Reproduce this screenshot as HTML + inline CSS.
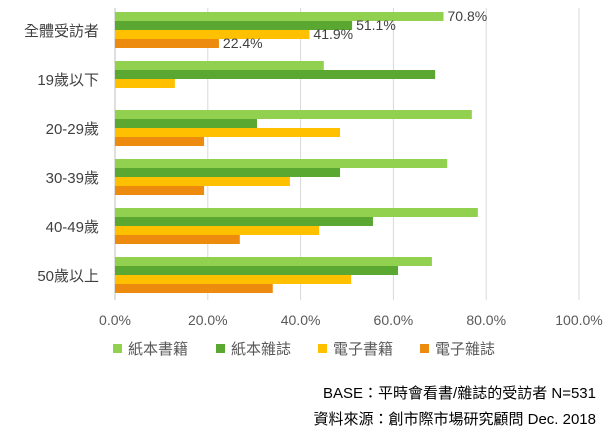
<!DOCTYPE html>
<html><head><meta charset="utf-8"><style>
body{margin:0;background:#fff;}
svg text{font-family:"Liberation Sans","Noto Sans CJK TC",sans-serif;}
</style></head><body>
<svg width="612" height="442" id="c"></svg>
<script>
const categories=["全體受訪者","19歲以下","20-29歲","30-39歲","40-49歲","50歲以上"];
const seriesNames=["紙本書籍","紙本雜誌","電子書籍","電子雜誌"];
const paperBooks=[70.8,45.0,76.9,71.6,78.2,68.3];
const paperMags=[51.1,69.0,30.6,48.5,55.6,61.0];
const eBooks=[41.9,12.9,48.5,37.7,44.0,50.9];
const eMags=[22.4,0,19.2,19.2,26.9,34.0];
const ticks=[0,20,40,60,80,100];
const colors=["#92D050","#5AA832","#FFC000","#ED8B0F"];
const svg=document.getElementById('c');
const NS="http://www.w3.org/2000/svg";
function mk(t,a,p){const e=document.createElementNS(NS,t);for(const k in a)e.setAttribute(k,a[k]);(p||svg).appendChild(e);return e;}
const x0=115,xw=464,plotTop=8,gh=49;
const X=v=>x0+v/100*xw;
const Y=i=>plotTop+4+i*gh;
ticks.forEach(t=>{
 const l=mk('line',{x1:X(t),x2:X(t),y1:plotTop,y2:300,stroke:t==0?'#bfbfbf':'#d9d9d9','stroke-width':1});
 
 
 const tx=mk('text',{x:X(t),y:325,'text-anchor':'middle','font-size':14,fill:'#595959'});
 tx.textContent=t.toFixed(1)+'%';
 
 
});
const all=[paperBooks,paperMags,eBooks,eMags];
categories.forEach((c,i)=>{
 const t=mk('text',{x:99,y:Y(i)+24,'text-anchor':'end','font-size':15,fill:'#404040'});
 t.textContent=c;
 
 
 all.forEach((s,j)=>{
  const r=mk('rect',{x:x0,y:Y(i)+j*9,width:Math.max(0,X(s[i])-x0),height:9,fill:colors[j]});
  
  
 });
});
[[paperBooks,0,4],[paperMags,1,4],[eBooks,2,4],[eMags,3,4]].forEach(([s,j,dx])=>{
 const t=mk('text',{x:X(s[0])+dx,y:Y(0)+j*9+9,'font-size':14,fill:'#404040'});
 t.textContent=s[0].toFixed(1)+'%';
 
 
});
const lx=[113,216,318,420];
seriesNames.forEach((n,j)=>{
 const r=mk('rect',{x:lx[j],y:344,width:9,height:9,fill:colors[j]});
 
 
 const t=mk('text',{x:lx[j]+15,y:354,'font-size':15,fill:'#595959'});
 t.textContent=n;
 
 
});
const f1=mk('text',{x:596,y:398,'text-anchor':'end','font-size':15,fill:'#000'});
f1.textContent='BASE：平時會看書/雜誌的受訪者 N=531';


const f2=mk('text',{x:596,y:424,'text-anchor':'end','font-size':15,fill:'#000'});
f2.textContent='資料來源：創市際市場研究顧問 Dec. 2018';


</script>
</body></html>
